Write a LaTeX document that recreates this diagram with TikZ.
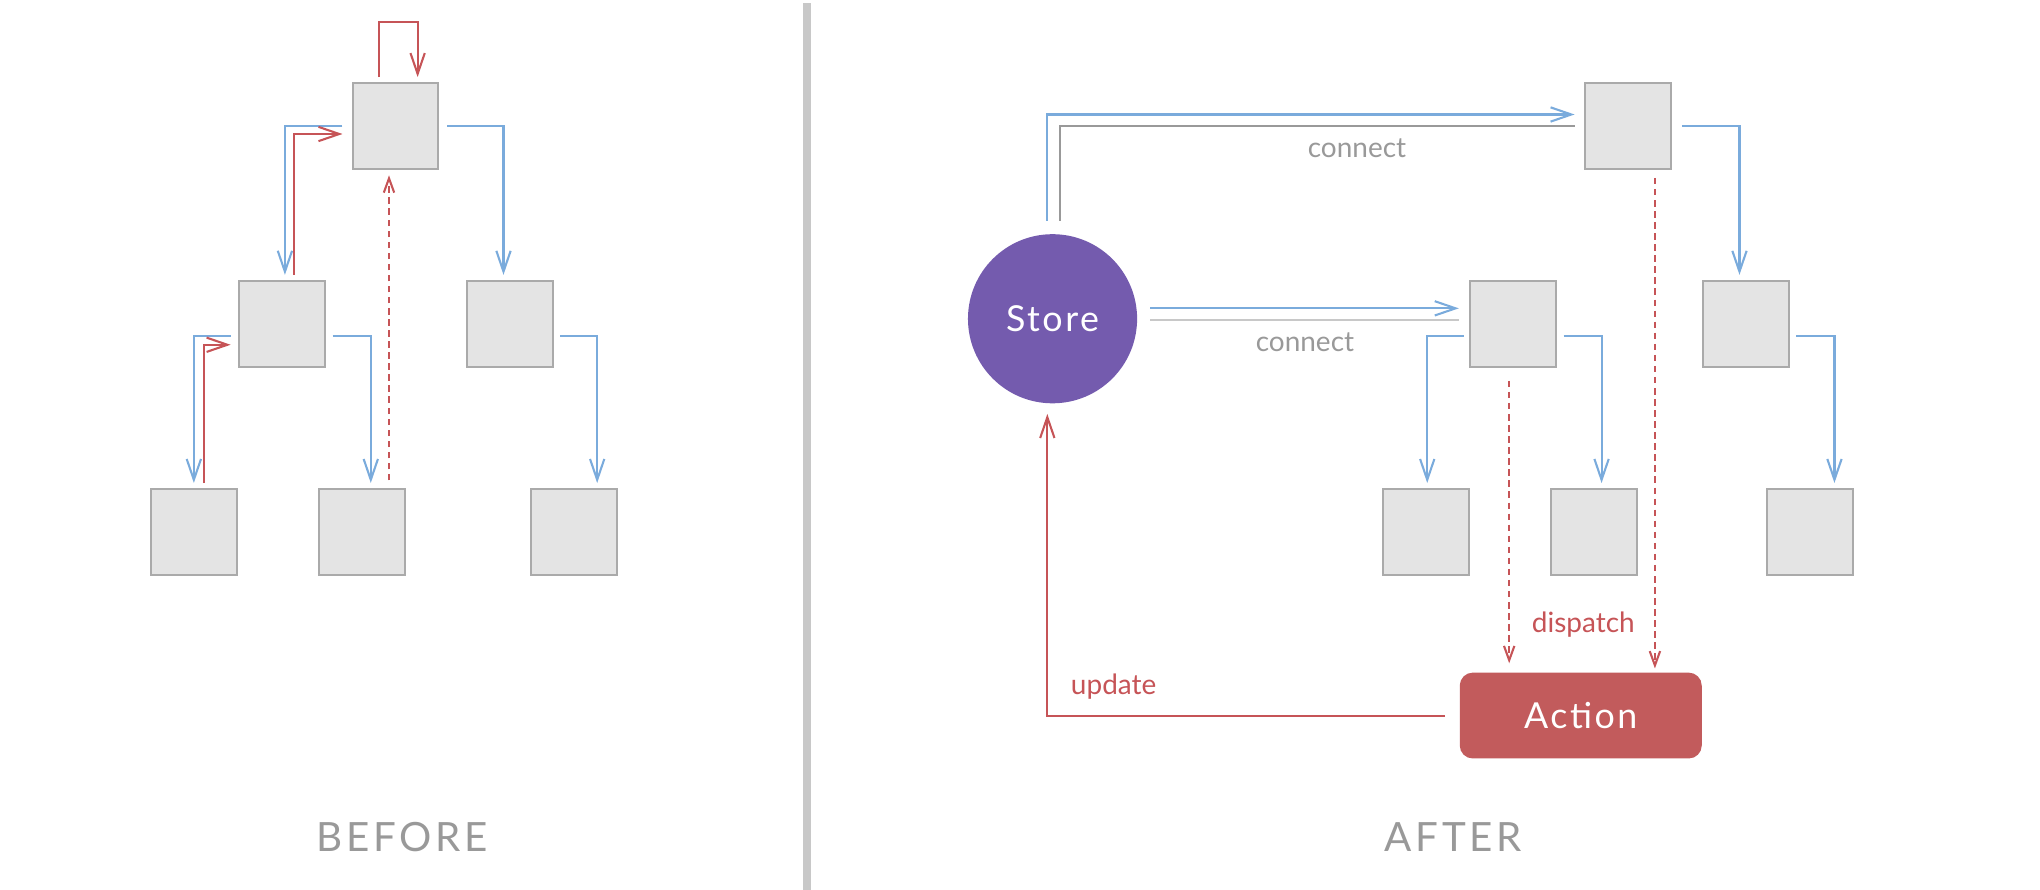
\documentclass[tikz,border=0pt]{standalone}
\usepackage{fontspec}
\setmainfont{Lato}
\usetikzlibrary{arrows.meta,calc}
\definecolor{ablue}{HTML}{7AABDC}
\definecolor{ared}{HTML}{C65457}
\definecolor{boxfill}{HTML}{E4E4E4}
\definecolor{boxline}{HTML}{AAAAAA}
\definecolor{storec}{HTML}{745BAE}
\definecolor{actc}{HTML}{C25B5C}
\definecolor{tgray}{HTML}{999999}
\definecolor{lgray}{HTML}{C8C8C8}
\definecolor{divc}{HTML}{C8C8C8}
\begin{document}
\begin{tikzpicture}[x=1pt,y=-1pt,
  box/.style={draw=boxline,fill=boxfill,line width=1.5pt,minimum size=66pt,inner sep=0pt},
  tip/.style={-{Straight Barb[length=16pt,width=11pt]}},
  smalltip/.style={-{Straight Barb[length=11pt,width=8pt]}},
  bl/.style={draw=ablue,line width=1.6pt,tip},
  rd/.style={draw=ared,line width=1.6pt,tip},
  rdd/.style={draw=ared,line width=1.6pt,dash pattern=on 5pt off 3.5pt,smalltip},
  gl/.style={draw=tgray,line width=1.6pt},
  lgl/.style={draw=lgray,line width=1.6pt},
  lbl/.style={text=tgray,font=\fontsize{21.5}{25}\selectfont,inner sep=0pt},
  rlbl/.style={text=ared,font=\fontsize{21.5}{25}\selectfont,inner sep=0pt},
  title/.style={text=tgray,font=\fontsize{31}{36}\selectfont\addfontfeature{LetterSpace=9},inner sep=0pt},
  bigw/.style={text=white,font=\fontsize{27.5}{32}\selectfont\addfontfeature{LetterSpace=7}}
]
\useasboundingbox (0,0) rectangle (1568,684);
\fill[divc] (617,2) rectangle (623,684);

% ---------- BEFORE ----------
\node[box] (T) at (304,97) {};
\node[box] (L) at (217,249) {};
\node[box] (R) at (392,249) {};
\node[box] (LL) at (149,409) {};
\node[box] (LM) at (278,409) {};
\node[box] (RR) at (441,409) {};

\draw[rd] ($(T.north)+(-13,-4)$) |- ($(T.north)+(17,-46)$) -- ($(T.north)+(17,-4)$);
\draw[bl] ($(T.west)+(-7,0)$) -| ($(L.north)+(2,-4)$);
\draw[rd] ($(L.north)+(9,-4)$) |- ($(T.west)+(-7,6)$);
\draw[bl] ($(T.east)+(6,0)$) -| ($(R.north)+(-5,-4)$);
\draw[bl] ($(L.west)+(-6,9)$) -| ($(LL.north)+(0,-4)$);
\draw[rd] ($(LL.north)+(8,-4)$) |- ($(L.west)+(-6,16)$);
\draw[bl] ($(L.east)+(5,9)$) -| ($(LM.north)+(7,-4)$);
\draw[rdd] ($(LM.north)+(21,-6)$) -- ($(T.south)+(-5,4)$);
\draw[bl] ($(R.east)+(5,9)$) -| ($(RR.north)+(18,-4)$);

\node[title] (before) at (309,643) {BEFORE};

% ---------- AFTER ----------
\node[box] (T2) at (1251,97) {};
\node[box] (A) at (1163,249) {};
\node[box] (B) at (1342,249) {};
\node[box] (AL) at (1096,409) {};
\node[box] (AR) at (1225,409) {};
\node[box] (BR) at (1391,409) {};
\node[circle,fill=storec,minimum size=130pt,inner sep=0pt,bigw] (S) at (809,245) {Store};
\node[rounded corners=10pt,fill=actc,minimum width=186pt,minimum height=66pt,inner sep=0pt,bigw] (Act) at (1215,550) {Action};

\draw[bl] ($(S.north)+(-4,-10)$) |- ($(T2.west)+(-7,-9)$);
\draw[gl] ($(S.north)+(6,-10)$) |- ($(T2.west)+(-7,0)$);
\node[lbl] (c1) at (1043,114) {connect};

\draw[bl] ($(S.east)+(10,-8)$) -- ($(A.west)+(-8,-12)$);
\draw[lgl] ($(S.east)+(10,1)$) -- ($(A.west)+(-8,-3)$);
\node[lbl] (c2) at (1003,263) {connect};

\draw[bl] ($(T2.east)+(8,0)$) -| ($(B.north)+(-5,-4)$);
\draw[bl] ($(A.west)+(-4,9)$) -| ($(AL.north)+(1,-4)$);
\draw[bl] ($(A.east)+(5,9)$) -| ($(AR.north)+(6,-4)$);
\draw[bl] ($(B.east)+(5,9)$) -| ($(BR.north)+(19,-4)$);

\draw[rdd] ($(A.south)+(-3,10)$) -- ($(Act.north)+(-55,-7)$);
\draw[rdd] ($(T2.south)+(21,6)$) -- ($(Act.north)+(57,-3)$);
\node[rlbl] (disp) at (1217,480) {dispatch};

\draw[rd] ($(Act.west)+(-11,0)$) -| ($(S.south)+(-4,8)$);
\node[rlbl] (upd) at (856,528) {update};

\node[title] (after) at (1117,643) {AFTER};
\end{tikzpicture}
\end{document}
